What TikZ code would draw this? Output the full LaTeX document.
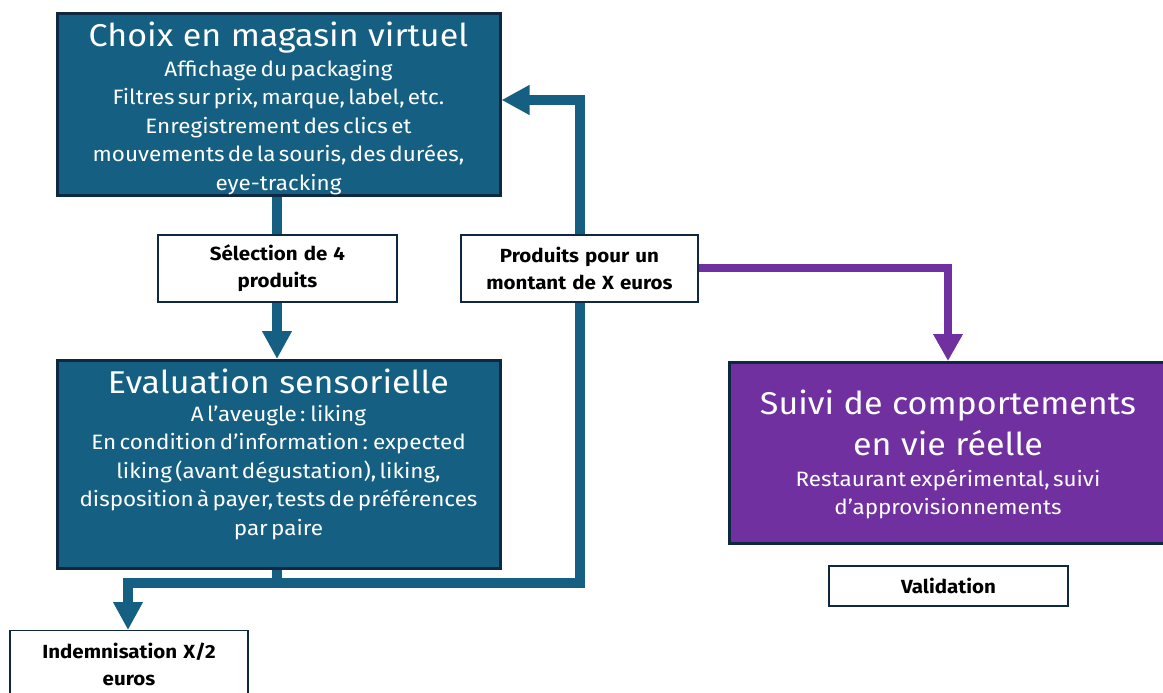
\documentclass[tikz,border=0pt]{standalone}
\usepackage{fontspec}
\setmainfont{Fira Sans}[FakeStretch=1.08,WordSpace=1.25]
\usetikzlibrary{arrows.meta,calc}
\definecolor{boxblue}{HTML}{156082}
\definecolor{boxpurple}{HTML}{7030A0}
\definecolor{edge}{HTML}{0E2841}
\newcommand{\ttlfont}{\fontsize{31.5}{34}\selectfont\spaceskip=9.5pt\relax}
\newcommand{\bodyfont}{\fontsize{20.8}{28.4}\selectfont}
\begin{document}
\begin{tikzpicture}[x=1pt,y=-1pt,
  bigbox/.style={draw=edge,line width=3pt,text=white,align=center,inner sep=0pt,minimum width=#1,text width=#1},
  bluebox/.style={bigbox=#1,fill=boxblue},
  purplebox/.style={bigbox=#1,fill=boxpurple},
  labelbox/.style={draw=edge,line width=1.5pt,fill=white,text=black,align=center,inner sep=0pt,
    font=\fontsize{19}{27}\selectfont\bfseries},
  bconn/.style={draw=boxblue,line width=10pt},
  barrow/.style={bconn,-{Triangle[width=28pt,length=28pt]}},
  parrow/.style={draw=boxpurple,line width=8pt,-{Triangle[width=28pt,length=27pt]}},
]
\useasboundingbox (0,0) rectangle (1163,693);
\coordinate (j) at (277,583);

% connectors
\path[bconn] (277,195) -- (277,234);
\path[barrow] (277,301) -- (277,359);
\path[bconn] (277,568) -- (j);
\path[barrow] (j) -| (128,630);
\path[barrow] (j) -| (580,100) -- (501.5,100);
\path[parrow] (698,268) -| (948,361);

% boxes
\node[bluebox=443pt,minimum height=181pt] (choix) at (278.5,104.5)
 {{\ttlfont Choix en magasin virtuel\par}\vspace{2pt}
  \bodyfont Affichage du packaging\par
  Filtres sur prix, marque, label, etc.\par
  Enregistrement des clics et\par
  mouvements de la souris, des durées,\par
  eye-tracking\par\vspace{-7pt}};
\node[labelbox,minimum width=239pt,minimum height=67pt] (sel) at (277.5,268.5)
 {Sélection de 4\\produits};
\node[labelbox,minimum width=237pt,minimum height=67pt] (prod) at (579.5,268.5)
 {Produits pour un\\montant de X euros};
\node[bluebox=443pt,minimum height=208pt] (eval) at (278.5,464)
 {{\ttlfont Evaluation sensorielle\par}
  \bodyfont A l’aveugle : liking\par
  En condition d’information : expected\par
  liking (avant dégustation), liking,\par
  disposition à payer, tests de préférences\par
  par paire\par\vspace{20pt}};
\node[labelbox,minimum width=238pt,minimum height=67pt] (ind) at (129,664)
 {Indemnisation X/2\\euros};
\node[purplebox=438pt,minimum height=181pt] (suivi) at (948,452.5)
 {{\fontsize{31.5}{41}\selectfont\spaceskip=9.5pt\relax Suivi de comportements\par
  en vie réelle\par}\vspace{2pt}
  \bodyfont Restaurant expérimental, suivi\par
  d’approvisionnements\par\vspace{-4pt}};
\node[labelbox,minimum width=239pt,minimum height=40pt] (valid) at (948.5,586)
 {Validation};
\end{tikzpicture}
\end{document}
